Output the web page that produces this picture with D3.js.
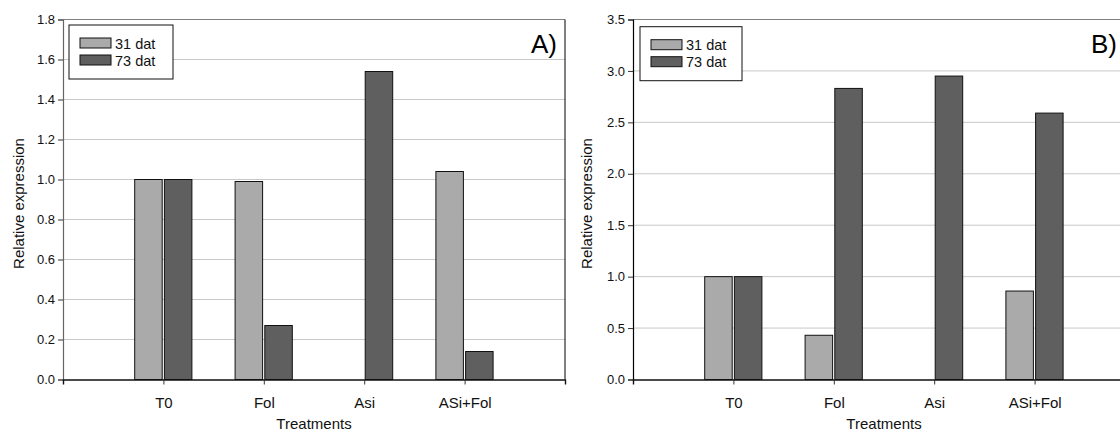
<!DOCTYPE html>
<html>
<head>
<meta charset="utf-8">
<script src="https://cdn.jsdelivr.net/npm/d3@7"></script>
<style>
  html, body { margin: 0; padding: 0; background: #fff; }
  svg { display: block; font-family: "Liberation Sans", Arial, sans-serif; }
</style>
</head>
<body>
<svg id="chart" width="1120" height="432"></svg>
<script>
// ---- data ----
const categories = ["T0", "Fol", "Asi", "ASi+Fol"];
const seriesNames = ["31 dat", "73 dat"];
const panelA_31 = [1.00, 0.99, null, 1.04];
const panelA_73 = [1.00, 0.27, 1.54, 0.14];
const panelB_31 = [1.00, 0.43, null, 0.86];
const panelB_73 = [1.00, 2.83, 2.95, 2.59];
const panelA_ticks = [0.0, 0.2, 0.4, 0.6, 0.8, 1.0, 1.2, 1.4, 1.6, 1.8];
const panelB_ticks = [0.0, 0.5, 1.0, 1.5, 2.0, 2.5, 3.0, 3.5];
const panelLabels = ["A)", "B)"];
const yTitle = "Relative expression";
const xTitle = "Treatments";

const colors = ["#aaaaaa", "#5f5f5f"];
const svg = d3.select("#chart");

function panel(opts) {
  const { left, top, width, height, yMax, ticks, s31, s73, label, labelX, legendPos, axisColor, titleX } = opts;
  const g = svg.append("g").attr("transform", `translate(${left},${top})`);
  const x = d3.scaleLinear().domain([0, categories.length + 1]).range([0, width]);
  const y = d3.scaleLinear().domain([0, yMax]).range([height, 0]);

  // gridlines
  g.append("g").selectAll("line").data(ticks.filter(t => t > 0 && t < yMax))
    .join("line")
    .attr("x1", 0).attr("x2", width)
    .attr("y1", d => y(d)).attr("y2", d => y(d))
    .attr("stroke", "#c8c8c8").attr("stroke-width", 1);

  // frame top/right
  g.append("line").attr("x1", 0).attr("x2", width).attr("y1", y(yMax)).attr("y2", y(yMax))
    .attr("stroke", "#808080").attr("stroke-width", 1.2);
  g.append("line").attr("x1", width).attr("x2", width).attr("y1", 0).attr("y2", height)
    .attr("stroke", "#000").attr("stroke-width", 1);

  // bars
  const bw = 27.5;
  const data = [];
  categories.forEach((c, i) => {
    if (s31[i] != null) data.push({ i, v: s31[i], s: 0 });
    if (s73[i] != null) data.push({ i, v: s73[i], s: 1 });
  });
  g.append("g").selectAll("rect").data(data).join("rect")
    .attr("x", d => d.s === 0 ? x(d.i + 1) - 1.2 - bw : x(d.i + 1) + 1)
    .attr("y", d => y(d.v))
    .attr("width", bw)
    .attr("height", d => y(0) - y(d.v))
    .attr("fill", d => colors[d.s])
    .attr("stroke", "#111").attr("stroke-width", 1);

  // y axis
  const ya = g.append("g").call(
    d3.axisLeft(y).tickValues(ticks).tickFormat(d3.format(".1f")).tickSizeOuter(0).tickSize(5).tickPadding(3)
  );
  ya.select(".domain").attr("stroke", axisColor).attr("stroke-width", 1.2);
  ya.selectAll(".tick line").attr("stroke", "#333");
  ya.selectAll("text").attr("font-size", 13).attr("fill", "#111")
    .attr("font-family", "Liberation Sans, Arial, sans-serif");

  // x axis
  const xa = g.append("g").attr("transform", `translate(0,${height})`).call(
    d3.axisBottom(x).tickValues(categories.map((c, i) => i + 1))
      .tickFormat(d => categories[d - 1]).tickSizeOuter(0).tickSize(5).tickPadding(13)
  );
  xa.select(".domain").attr("stroke", "#111").attr("stroke-width", 1.4);
  xa.selectAll(".tick line").attr("stroke", "#333");
  xa.selectAll("text").attr("font-size", 15).attr("fill", "#111")
    .attr("font-family", "Liberation Sans, Arial, sans-serif");

  // titles
  g.append("text").attr("x", width / 2).attr("y", height + 49.5)
    .attr("text-anchor", "middle").attr("font-size", 15).attr("fill", "#111").text(xTitle);
  g.append("text")
    .attr("transform", `translate(${titleX},${height / 2 + 4}) rotate(-90)`)
    .attr("text-anchor", "middle").attr("font-size", 15).attr("fill", "#111").text(yTitle);

  // panel label
  g.append("text").attr("x", labelX).attr("y", 33)
    .attr("text-anchor", "end").attr("font-size", 26).attr("fill", "#000").text(label);

  // legend
  const lg = g.append("g").attr("transform", `translate(${legendPos[0]},${legendPos[1]})`);
  lg.append("rect").attr("x", 0).attr("y", 0).attr("width", legendPos[2]).attr("height", 54)
    .attr("fill", "#fff").attr("stroke", "#111").attr("stroke-width", 1);
  seriesNames.forEach((n, k) => {
    lg.append("rect").attr("x", 11).attr("y", 13 + k * 17).attr("width", 31).attr("height", 10)
      .attr("fill", colors[k]).attr("stroke", "#111").attr("stroke-width", 1);
    lg.append("text").attr("x", 46).attr("y", 23.5 + k * 17).attr("font-size", 14.5)
      .attr("fill", "#111").text(n);
  });
}

panel({ left: 63, top: 19.5, width: 502, height: 360, yMax: 1.8, ticks: panelA_ticks,
  s31: panelA_31, s73: panelA_73, label: panelLabels[0], labelX: 494, legendPos: [6, 5.5, 104],
  axisColor: "#666", titleX: -39 });
panel({ left: 633, top: 19.5, width: 502, height: 360, yMax: 3.5, ticks: panelB_ticks,
  s31: panelB_31, s73: panelB_73, label: panelLabels[1], labelX: 484, legendPos: [7, 7.2, 102],
  axisColor: "#000", titleX: -41 });
</script>
</body>
</html>
